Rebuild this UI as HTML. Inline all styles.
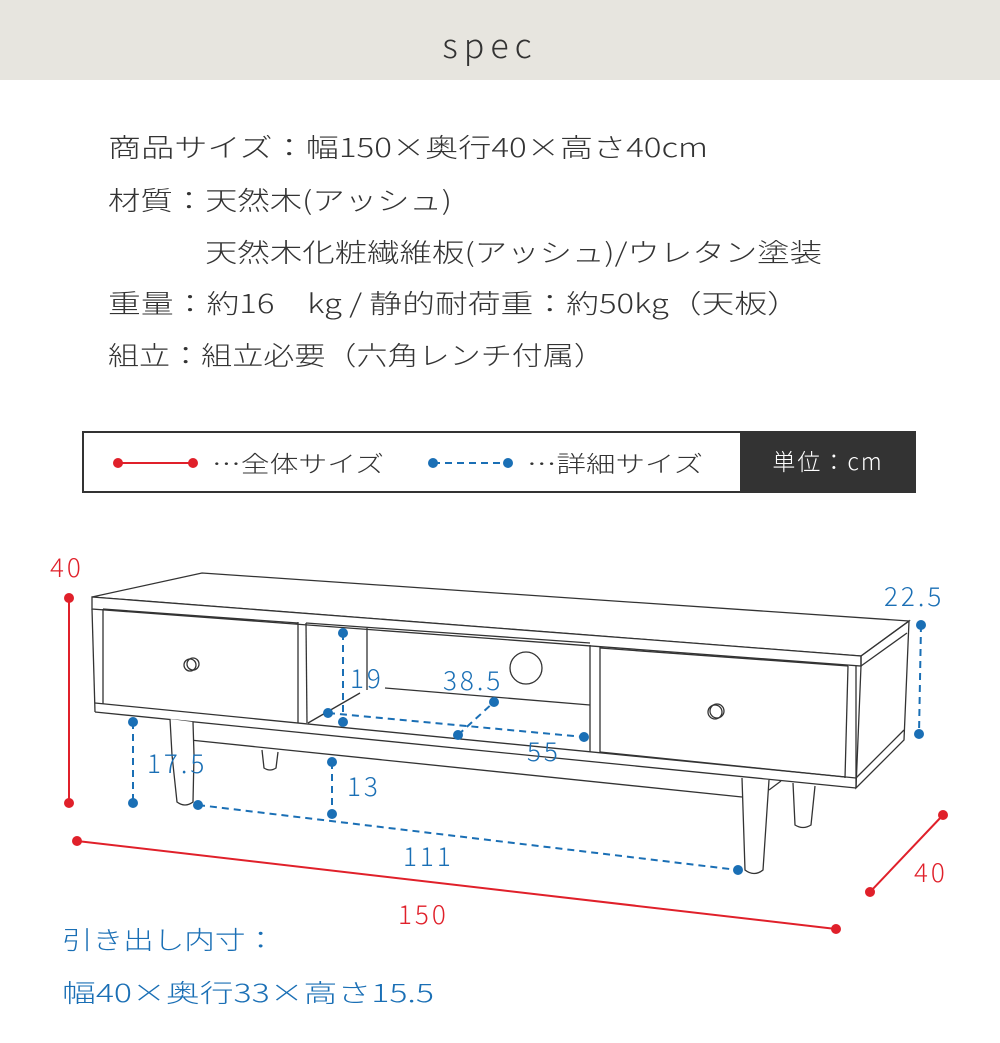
<!DOCTYPE html>
<html><head><meta charset="utf-8"><style>
html,body{margin:0;padding:0;background:#fff;}
svg{display:block;}
text{font-family:"Noto Sans CJK JP","Liberation Sans",sans-serif;font-weight:300;}
</style></head><body>
<svg width="1000" height="1043" viewBox="0 0 1000 1043" xmlns="http://www.w3.org/2000/svg">
<rect x="0" y="0" width="1000" height="80" fill="#e7e5df"/>
<text x="490" y="58" font-size="34" fill="#333" text-anchor="middle" letter-spacing="6">spec</text>

<g font-size="26" fill="#333">
<text x="108" y="157" textLength="600" lengthAdjust="spacingAndGlyphs">商品サイズ：幅150×奥行40×高さ40cm</text>
<text x="108" y="210" textLength="344" lengthAdjust="spacingAndGlyphs">材質：天然木(アッシュ)</text>
<text x="205" y="262" textLength="617" lengthAdjust="spacingAndGlyphs">天然木化粧繊維板(アッシュ)/ウレタン塗装</text>
<text x="108" y="313" textLength="692" lengthAdjust="spacingAndGlyphs">重量：約16　kg / 静的耐荷重：約50kg（天板）</text>
<text x="108" y="365" textLength="497" lengthAdjust="spacingAndGlyphs">組立：組立必要（六角レンチ付属）</text>
</g>

<rect x="83" y="432" width="832" height="60" fill="#fff" stroke="#333" stroke-width="2"/>
<rect x="740" y="432" width="175" height="60" fill="#333"/>
<text x="828" y="470" font-size="23" fill="#fff" text-anchor="middle" letter-spacing="2">単位：cm</text>
<line x1="118" y1="463" x2="193" y2="463" stroke="#e0202a" stroke-width="2"/>
<circle cx="118" cy="463" r="5" fill="#e0202a"/><circle cx="193" cy="463" r="5" fill="#e0202a"/>
<text x="212" y="472" font-size="23" fill="#333" textLength="172" lengthAdjust="spacingAndGlyphs">…全体サイズ</text>
<line x1="433" y1="463" x2="508" y2="463" stroke="#1a6fb5" stroke-width="2" stroke-dasharray="7,5"/>
<circle cx="433" cy="463" r="5" fill="#1a6fb5"/><circle cx="508" cy="463" r="5" fill="#1a6fb5"/>
<text x="527" y="472" font-size="23" fill="#333" textLength="176" lengthAdjust="spacingAndGlyphs">…詳細サイズ</text>

<g fill="none" stroke="#333" stroke-width="1.3">
<polygon points="202,573 909,621 861,656 92,597" fill="#fff"/>
<polygon points="92,597 861,656 861,666 92,609" fill="#fff"/>
<polygon points="861,656 909,621 904,740 856,788 861,666"/>
<line x1="861" y1="666" x2="907" y2="633"/>
<line x1="856" y1="778" x2="904" y2="730"/>
<line x1="92" y1="609" x2="95" y2="712"/>
<line x1="95" y1="703" x2="856" y2="778"/>
<line x1="95" y1="712" x2="856" y2="788"/>
<line x1="856" y1="666" x2="856" y2="788"/>
<line x1="103" y1="609" x2="103" y2="704"/>
<line x1="103" y1="609" x2="298" y2="623"/>
<polyline points="298,622 298,723"/>
<line x1="306" y1="623" x2="307" y2="723"/>
<line x1="306" y1="623" x2="590" y2="643"/>
<line x1="367" y1="628" x2="367" y2="690"/>
<line x1="385" y1="688" x2="590" y2="705"/>
<line x1="590" y1="645" x2="590" y2="752"/>
<line x1="600" y1="646" x2="600" y2="753"/>
<line x1="600" y1="648" x2="848" y2="666"/>
<line x1="848" y1="666" x2="845" y2="778"/>
<line x1="600" y1="752" x2="845" y2="777"/>
<line x1="308" y1="723" x2="360" y2="693"/>
<circle cx="526" cy="668" r="16"/>
<circle cx="190" cy="665" r="6"/><circle cx="193" cy="664" r="6"/>
<circle cx="715" cy="712" r="7"/><circle cx="717" cy="711" r="7"/>
<line x1="189" y1="722" x2="190" y2="740"/>
<line x1="190" y1="740" x2="742" y2="797"/>
<path d="M170,719 L172,755 L177,802 Q185,808 193,802 L194,755 L193,722" fill="#fff"/>
<path d="M262,750 L264,768 Q270,772 276,768 L278,752"/>
<path d="M742,778 L745,870 Q754,877 763,870 L769,780" fill="#fff"/>
<path d="M793,783 L795,825 Q803,830 811,825 L815,786"/>
<line x1="769" y1="790" x2="781" y2="781"/>
</g>

<g stroke="#e0202a" stroke-width="2" fill="#e0202a">
<line x1="69" y1="598" x2="69" y2="803"/>
<circle cx="69" cy="598" r="5" stroke="none"/><circle cx="69" cy="803" r="5" stroke="none"/>
<line x1="77" y1="841" x2="836" y2="929"/>
<circle cx="77" cy="841" r="5" stroke="none"/><circle cx="836" cy="929" r="5" stroke="none"/>
<line x1="943" y1="815" x2="870" y2="892"/>
<circle cx="943" cy="815" r="5" stroke="none"/><circle cx="870" cy="892" r="5" stroke="none"/>
</g>
<g font-size="26" fill="#e0202a" letter-spacing="3" style="font-weight:400">
<text x="50" y="577">40</text>
<text x="398" y="924">150</text>
<text x="914" y="882">40</text>
</g>

<g stroke="#1a6fb5" stroke-width="2" fill="none" stroke-dasharray="7,5">
<line x1="921" y1="625" x2="919" y2="734"/>
<line x1="133" y1="722" x2="133" y2="803"/>
<line x1="332" y1="762" x2="332" y2="814"/>
<line x1="198" y1="805" x2="738" y2="870"/>
<line x1="343" y1="633" x2="343" y2="722"/>
<line x1="458" y1="735" x2="494" y2="702"/>
<line x1="328" y1="713" x2="584" y2="737"/>
</g>
<g fill="#1a6fb5">
<circle cx="921" cy="625" r="5"/><circle cx="919" cy="734" r="5"/>
<circle cx="133" cy="722" r="5"/><circle cx="133" cy="803" r="5"/>
<circle cx="332" cy="762" r="5"/><circle cx="332" cy="814" r="5"/>
<circle cx="198" cy="805" r="5"/><circle cx="738" cy="870" r="5"/>
<circle cx="343" cy="633" r="5"/><circle cx="343" cy="722" r="5"/>
<circle cx="458" cy="735" r="5"/><circle cx="494" cy="702" r="5"/>
<circle cx="328" cy="713" r="5"/><circle cx="584" cy="737" r="5"/>
</g>
<g font-size="26" fill="#1a6fb5" letter-spacing="3" style="font-weight:400">
<text x="884" y="606">22.5</text>
<text x="147" y="773">17.5</text>
<text x="347" y="796">13</text>
<text x="403" y="866">111</text>
<text x="350" y="688">19</text>
<text x="443" y="690">38.5</text>
<text x="527" y="761">55</text>
</g>

<g font-size="25" fill="#1a6fb5">
<text x="62" y="949" textLength="214" lengthAdjust="spacingAndGlyphs">引き出し内寸：</text>
<text x="62" y="1002" textLength="372" lengthAdjust="spacingAndGlyphs">幅40×奥行33×高さ15.5</text>
</g>
</svg>
</body></html>
